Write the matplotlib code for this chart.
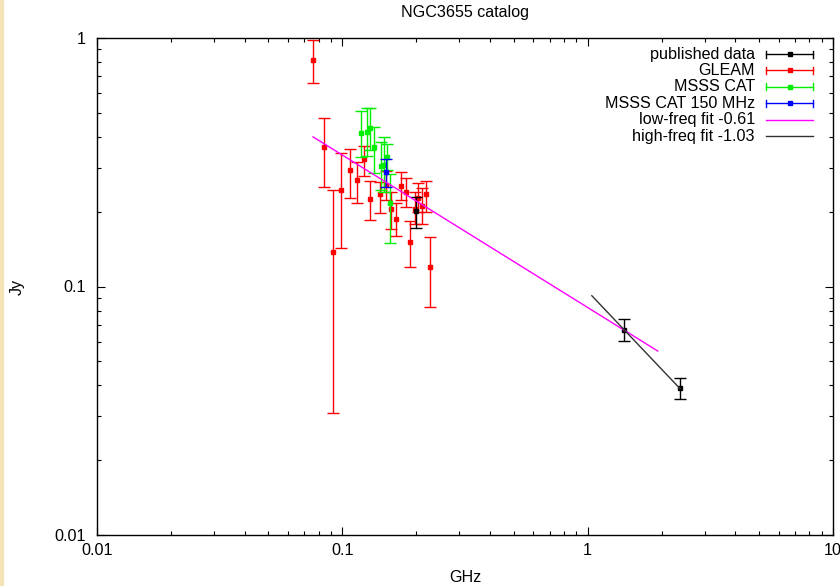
import matplotlib
matplotlib.use("Agg")
import matplotlib.pyplot as plt
import matplotlib.patches as patches
import matplotlib.ticker as ticker

plt.rcParams['font.family'] = ['Liberation Sans', 'DejaVu Sans']

# published data (GHz, Jy, lower, upper)
pub_freq = [0.200, 1.40, 2.38]
pub_flux = [0.201, 0.067, 0.039]
pub_lo = [0.172, 0.0606, 0.0352]
pub_hi = [0.2295, 0.0739, 0.0430]

# GLEAM sub-bands
gleam_freq = [0.076, 0.084, 0.092, 0.099, 0.107, 0.115, 0.122, 0.130, 0.143, 0.151,
              0.158, 0.166, 0.174, 0.181, 0.189, 0.197, 0.204, 0.212, 0.220, 0.227]
gleam_flux = [0.818, 0.364, 0.138, 0.245, 0.294, 0.268, 0.325, 0.226, 0.235, 0.257,
              0.205, 0.187, 0.254, 0.241, 0.151, 0.206, 0.227, 0.211, 0.235, 0.120]
gleam_lo = [0.657, 0.252, 0.031, 0.143, 0.228, 0.216, 0.279, 0.185, 0.198, 0.222,
            0.170, 0.160, 0.222, 0.2085, 0.120, 0.178, 0.200, 0.179, 0.199, 0.083]
gleam_hi = [0.980, 0.475, 0.245, 0.345, 0.356, 0.316, 0.368, 0.267, 0.264, 0.292,
            0.240, 0.216, 0.288, 0.274, 0.183, 0.239, 0.261, 0.248, 0.267, 0.158]

# MSSS catalogue bands
msss_freq = [0.1196, 0.1257, 0.1291, 0.1351, 0.1438, 0.148, 0.1514, 0.157]
msss_flux = [0.416, 0.418, 0.433, 0.363, 0.306, 0.308, 0.332, 0.216]
msss_lo = [0.333, 0.335, 0.354, 0.286, 0.245, 0.240, 0.294, 0.149]
msss_hi = [0.508, 0.521, 0.524, 0.438, 0.380, 0.400, 0.375, 0.284]

# MSSS 150 MHz
m150_freq = [0.150]
m150_flux = [0.288]
m150_lo = [0.252]
m150_hi = [0.325]

# power-law fits, end points
low_fit_freq = [0.076, 1.93]
low_fit_flux = [0.400, 0.055]
high_fit_freq = [1.04, 2.38]
high_fit_flux = [0.0918, 0.0388]

FS = 11.6
W, H = 840, 586
fig = plt.figure(figsize=(W / 100, H / 100), dpi=100)
ax = fig.add_axes([97 / W, (H - 535) / H, 736 / W, 497 / H])

# thin pale strip on the left edge
fig.patches.append(patches.Rectangle((0, 0), 3 / W, 1, transform=fig.transFigure,
                                     color='#f3e4b8', zorder=0))


def errs(flux, lo, hi):
    return [[f - l for f, l in zip(flux, lo)], [h - f for f, h in zip(flux, hi)]]


series = [
    (gleam_freq, gleam_flux, gleam_lo, gleam_hi, '#ff0000', 2),
    (msss_freq, msss_flux, msss_lo, msss_hi, '#00ee00', 3),
    (m150_freq, m150_flux, m150_lo, m150_hi, '#0000ff', 4),
    (pub_freq, pub_flux, pub_lo, pub_hi, '#000000', 5),
]
for fr, fl, lo, hi, col, z in series:
    ax.errorbar(fr, fl, yerr=errs(fl, lo, hi), fmt='s', color=col, ms=2.4,
                elinewidth=1.0, capsize=4.5, capthick=1.0, zorder=z)

ax.plot(low_fit_freq, low_fit_flux, color='#ff00ff', lw=1.0, zorder=6)
ax.plot(high_fit_freq, high_fit_flux, color='#333333', lw=1.0, zorder=6)

ax.set_xscale('log')
ax.set_yscale('log')
ax.set_xlim(0.01, 10)
ax.set_ylim(0.01, 1)
ax.xaxis.set_major_formatter(ticker.FuncFormatter(lambda v, p: '%g' % v))
ax.yaxis.set_major_formatter(ticker.FuncFormatter(lambda v, p: '%g' % v))
ax.xaxis.set_minor_formatter(ticker.NullFormatter())
ax.yaxis.set_minor_formatter(ticker.NullFormatter())
ax.tick_params(which='both', direction='in', top=True, right=True, width=0.8,
               labelsize=FS)
ax.tick_params(which='major', length=6)
ax.tick_params(which='minor', length=3)
ax.tick_params(axis='x', pad=6)
ax.tick_params(axis='y', pad=8)
for s in ax.spines.values():
    s.set_linewidth(1.0)

fig.text(465 / W, 1 - 12 / H, 'NGC3655 catalog', ha='center', va='center', fontsize=FS)
fig.text(465 / W, 1 - 577 / H, 'GHz', ha='center', va='center', fontsize=FS)
fig.text(17 / W, 1 - 287 / H, 'Jy', ha='center', va='center', rotation=90, fontsize=FS)

# legend drawn gnuplot style: label right-aligned, sample to its right
legend = [
    ('published data', '#000000', True),
    ('GLEAM', '#ff0000', True),
    ('MSSS CAT', '#00ee00', True),
    ('MSSS CAT 150 MHz', '#0000ff', True),
    ('low-freq fit -0.61', '#ff00ff', False),
    ('high-freq fit -1.03', '#333333', False),
]
tr = ax.transAxes
x0, x1 = (766 - 97) / 736, (813 - 97) / 736
xt = (755 - 97) / 736
cap = 3.5 / 497
for i, (label, col, bars) in enumerate(legend):
    y = (535 - (54 + 16.4 * i)) / 497
    ax.text(xt, y, label, transform=tr, ha='right', va='center', fontsize=FS)
    ax.plot([x0, x1], [y, y], color=col, lw=1.0, transform=tr, clip_on=False)
    if bars:
        for xc in (x0, x1):
            ax.plot([xc, xc], [y - cap, y + cap], color=col, lw=1.0, transform=tr,
                    clip_on=False)
        ax.plot([(x0 + x1) / 2], [y], 's', color=col, ms=2.4, transform=tr,
                clip_on=False)

fig.savefig('out.png', dpi=100)
